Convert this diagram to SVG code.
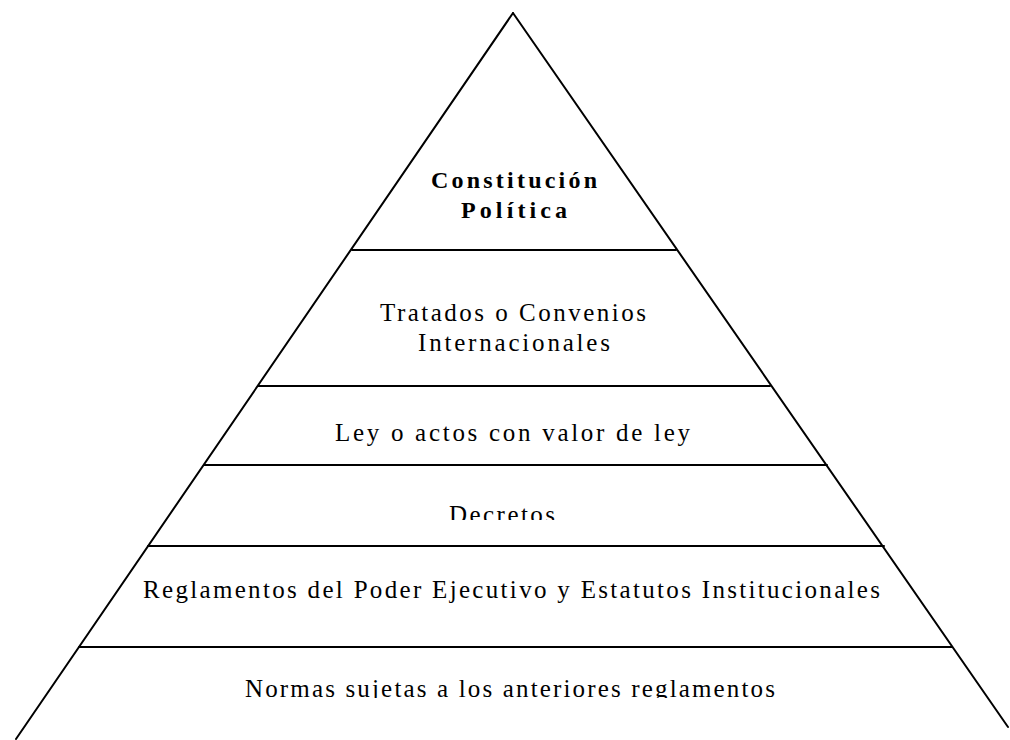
<svg xmlns="http://www.w3.org/2000/svg" width="1010" height="740" viewBox="0 0 1010 740">
  <defs>
    <style>
      .ln { stroke: #000; stroke-width: 2; fill: none; stroke-linecap: round; }
      .t { font-family: "Liberation Serif", "Times New Roman", serif; font-size: 25px; fill: #000; text-anchor: start; }
      .b { font-weight: bold; font-size: 24px; }
    </style>
    <clipPath id="clipDec"><rect x="0" y="490" width="1010" height="30"/></clipPath>
    <clipPath id="clipNor"><rect x="0" y="660" width="1010" height="38"/></clipPath>
  </defs>
  <rect width="1010" height="740" fill="#fff"/>
  <g id="outline">
    <line class="ln" x1="513" y1="13" x2="16" y2="739"/>
    <line class="ln" x1="513" y1="13" x2="1008" y2="727"/>
    <line class="ln" x1="352" y1="250" x2="676" y2="250"/>
    <line class="ln" x1="258" y1="386" x2="770" y2="386"/>
    <line class="ln" x1="204" y1="465" x2="827" y2="465"/>
    <line class="ln" x1="148" y1="546" x2="884" y2="546"/>
    <line class="ln" x1="79" y1="647" x2="952" y2="647"/>
  </g>
  <g id="tier1">
    <text class="t b" x="431" y="188" textLength="166" lengthAdjust="spacing">Constitución</text>
    <text class="t b" x="461" y="218" textLength="106" lengthAdjust="spacing">Política</text>
  </g>
  <g id="tier2">
    <text class="t" x="380" y="321" textLength="266" lengthAdjust="spacing">Tratados o Convenios</text>
    <text class="t" x="418" y="351" textLength="192" lengthAdjust="spacing">Internacionales</text>
  </g>
  <g id="tier3">
    <text class="t" x="335" y="441" textLength="355" lengthAdjust="spacing">Ley o actos con valor de ley</text>
  </g>
  <g id="tier4" clip-path="url(#clipDec)">
    <text class="t" x="449" y="523" textLength="106" lengthAdjust="spacing">Decretos</text>
  </g>
  <g id="tier5">
    <text class="t" x="143" y="598" textLength="737" lengthAdjust="spacing">Reglamentos del Poder Ejecutivo y Estatutos Institucionales</text>
  </g>
  <g id="tier6" clip-path="url(#clipNor)">
    <text class="t" x="245" y="697" textLength="530" lengthAdjust="spacing">Normas sujetas a los anteriores reglamentos</text>
  </g>
</svg>
